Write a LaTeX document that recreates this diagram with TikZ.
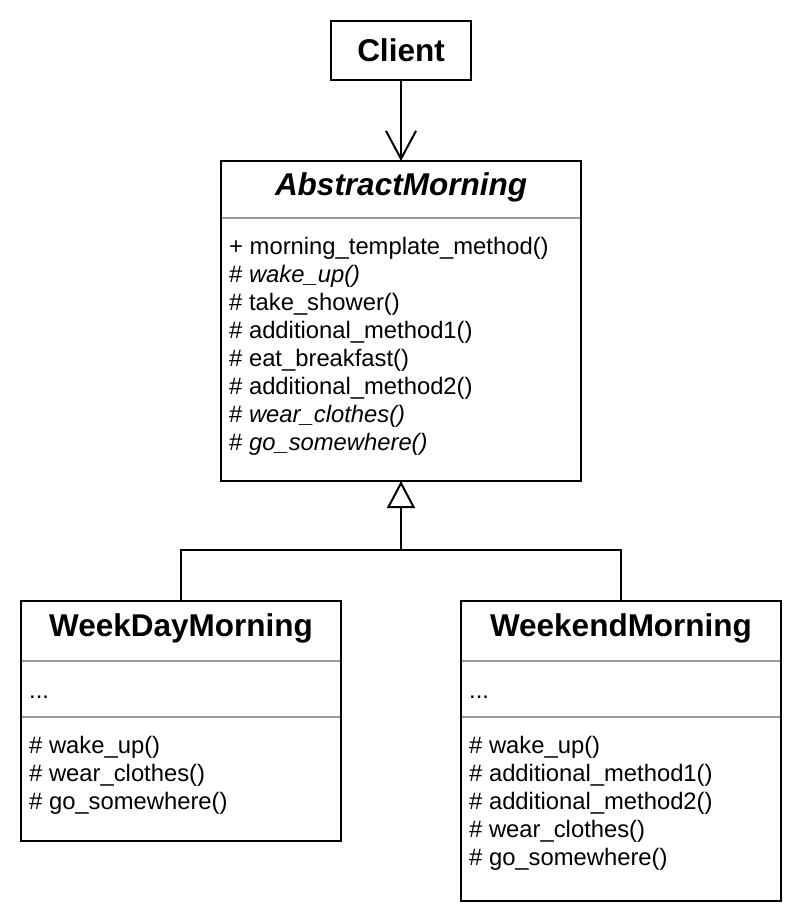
\documentclass[tikz,border=0pt]{standalone}
\usepackage{fontspec}
\setmainfont{Liberation Sans}
\usetikzlibrary{arrows.meta}
\begin{document}
\begin{tikzpicture}[x=1pt,y=-1pt,
  box/.style={draw=black,line width=2pt,fill=white},
  sep/.style={draw=black!40,line width=2pt},
  link/.style={draw=black,line width=2pt},
  title/.style={font=\fontsize{31.5}{34}\selectfont\bfseries,inner sep=0pt},
  member/.style={font=\fontsize{23.8}{28}\selectfont,inner sep=0pt,anchor=base west},
]
\useasboundingbox (0,0) rectangle (804,924);
% Client
\draw[box] (331,21) rectangle (471,80);
\node[title] (client) at (401,50) {Client};
\coordinate (cb) at (401,80);
% Abstract
\draw[box] (221,161) rectangle (581,481);
\coordinate (at) at (401,161);
\coordinate (ab) at (401,481);
\node[title,font=\fontsize{31.5}{34}\selectfont\bfseries\itshape] (abs) at (401,187) {AbstractMorning};
\draw[sep] (222,218) -- (580,218);
\node[member] (a1) at (229,254) {+ morning\_template\_method()};
\node[member] (a2) at (229,282) {\# \textit{wake\_up()}};
\node[member] (a3) at (229,310) {\# take\_shower()};
\node[member] (a4) at (229,338) {\# additional\_method1()};
\node[member] (a5) at (229,366) {\# eat\_breakfast()};
\node[member] (a6) at (229,394) {\# additional\_method2()};
\node[member] (a7) at (229,422) {\# \textit{wear\_clothes()}};
\node[member] (a8) at (229,450) {\# \textit{go\_somewhere()}};
% WeekDay
\draw[box] (21,601) rectangle (341,841);
\coordinate (wdt) at (181,601);
\node[title] (wd) at (181,628) {WeekDayMorning};
\draw[sep] (22,661) -- (340,661);
\node[member] (w0) at (29,698) {...};
\draw[sep] (22,717) -- (340,717);
\node[member] (w1) at (29,753) {\# wake\_up()};
\node[member] (w2) at (29,781) {\# wear\_clothes()};
\node[member] (w3) at (29,809) {\# go\_somewhere()};
% Weekend
\draw[box] (461,601) rectangle (781,901);
\coordinate (wet) at (621,601);
\node[title] (we) at (621,628) {WeekendMorning};
\draw[sep] (462,661) -- (780,661);
\node[member] (e0) at (469,698) {...};
\draw[sep] (462,717) -- (780,717);
\node[member] (e1) at (469,753) {\# wake\_up()};
\node[member] (e2) at (469,781) {\# additional\_method1()};
\node[member] (e3) at (469,809) {\# additional\_method2()};
\node[member] (e4) at (469,837) {\# wear\_clothes()};
\node[member] (e5) at (469,865) {\# go\_somewhere()};
% connectors
\draw[link,-{Straight Barb[length=28pt,width=30pt,line width=2pt]}] (cb) -- (at);
\coordinate (j) at (401,550);
\draw[link] (wdt) |- (j) -| (wet);
\draw[link,-{Triangle[open,length=27pt,width=28pt,line width=2pt,fill=white]}] (j) -- (ab);
\end{tikzpicture}
\end{document}
